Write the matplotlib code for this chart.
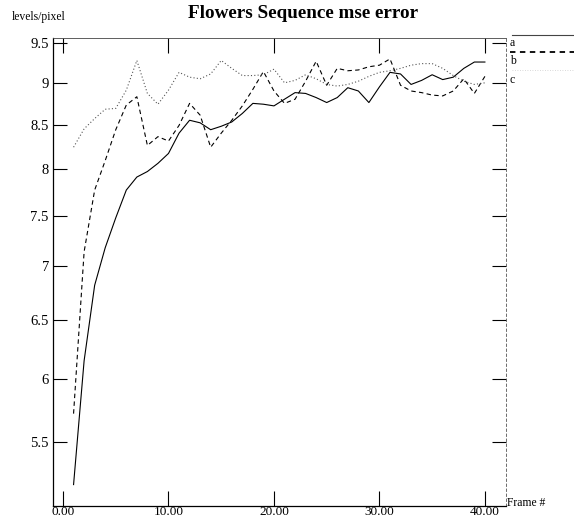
import matplotlib
matplotlib.use("Agg")
import matplotlib.pyplot as plt
from matplotlib.lines import Line2D
from matplotlib.ticker import NullLocator

plt.rcParams['font.family'] = ['Liberation Serif', 'DejaVu Serif']

frames = list(range(1, 41))

# a: solid
err_a = [5.19, 6.15, 6.82, 7.18, 7.48, 7.77, 7.91, 7.97, 8.06, 8.17,
         8.40, 8.55, 8.52, 8.44, 8.48, 8.53, 8.63, 8.75, 8.74, 8.72,
         8.80, 8.88, 8.87, 8.82, 8.76, 8.82, 8.94, 8.90, 8.76, 8.95,
         9.13, 9.11, 8.98, 9.03, 9.10, 9.04, 9.07, 9.18, 9.26, 9.26]
# b: dashed
err_b = [5.72, 7.14, 7.77, 8.09, 8.44, 8.73, 8.83, 8.26, 8.36, 8.31,
         8.49, 8.75, 8.61, 8.24, 8.40, 8.55, 8.72, 8.92, 9.14, 8.90,
         8.75, 8.80, 9.02, 9.27, 8.97, 9.18, 9.15, 9.16, 9.20, 9.22,
         9.30, 8.97, 8.90, 8.88, 8.85, 8.84, 8.90, 9.05, 8.87, 9.08]
# c: dotted
err_c = [8.24, 8.45, 8.57, 8.68, 8.69, 8.91, 9.28, 8.87, 8.74, 8.91,
         9.13, 9.07, 9.05, 9.11, 9.28, 9.18, 9.09, 9.09, 9.10, 9.17,
         9.00, 9.03, 9.10, 9.05, 8.98, 8.96, 8.98, 9.02, 9.08, 9.13,
         9.15, 9.18, 9.22, 9.24, 9.24, 9.18, 9.09, 9.02, 8.98, 9.00]

ytick_vals = [5.5, 6, 6.5, 7, 7.5, 8, 8.5, 9, 9.5]
ytick_labels = ['5.5', '6', '6.5', '7', '7.5', '8', '8.5', '9', '9.5']
xtick_vals = [0, 10, 20, 30, 40]
xtick_labels = ['0.00', '10.00', '20.00', '30.00', '40.00']

fig = plt.figure(figsize=(5.74, 5.19), dpi=100)
ax = fig.add_axes([53/574, 1-506/519, (506-53)/574, (506-38)/519])

ax.plot(frames, err_a, color='black', lw=0.8, linestyle='-')
ax.plot(frames, err_b, color='black', lw=0.8, linestyle=(0, (4, 3)))
ax.plot(frames, err_c, color='#555555', lw=0.8, linestyle=(0, (1, 2)))

ax.set_yscale('log')
ax.set_ylim(5.04, 9.57)
ax.set_xlim(-0.95, 42.0)
ax.set_yticks(ytick_vals)
ax.set_yticklabels(ytick_labels)
ax.yaxis.set_minor_locator(NullLocator())
ax.set_xticks(xtick_vals)
ax.set_xticklabels(xtick_labels)

ax.tick_params(direction='in', length=10, width=0.8, labelsize=10.5,
               top=True, right=True, pad=3)
ax.tick_params(axis='x', length=11, pad=0, labelsize=9.5)
for side in ['left', 'bottom']:
    ax.spines[side].set_linewidth(0.9)
ax.spines['top'].set_linewidth(0.6)
ax.spines['top'].set_color('#444444')
ax.spines['right'].set_linewidth(0.6)
ax.spines['right'].set_linestyle((0, (3, 3)))
ax.spines['right'].set_color('#555555')

fig.text(303/574, 1-14/519, 'Flowers Sequence mse error', ha='center', va='center',
         fontsize=13.8, fontweight='bold')
fig.text(12/574, 1-17/519, 'levels/pixel', ha='left', va='center', fontsize=8.4)
fig.text(507/574, 1-503/519, 'Frame #', ha='left', va='center', fontsize=8.4)

# legend outside on the right
fig.add_artist(Line2D([512/574, 574/574], [1-35/519, 1-35/519], color='#444444', lw=0.8))
fig.add_artist(Line2D([510/574, 574/574], [1-52/519, 1-52/519], color='black', lw=1.3,
                      linestyle=(0, (3, 2.5))))
fig.add_artist(Line2D([512/574, 574/574], [1-70/519, 1-70/519], color='#cccccc', lw=0.6,
                      linestyle=(0, (1, 2))))
fig.text(510/574, 1-43/519, 'a', ha='left', va='center', fontsize=8.4)
fig.text(510/574, 1-61/519, 'b', ha='left', va='center', fontsize=8.4)
fig.text(510/574, 1-80/519, 'c', ha='left', va='center', fontsize=8.4)

fig.savefig('out.png', dpi=100)
